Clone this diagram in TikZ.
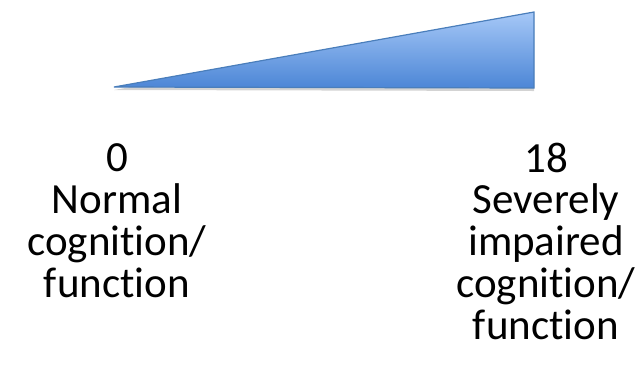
\documentclass[tikz,border=0pt]{standalone}
\usepackage{fontspec}
\setmainfont{Carlito}[Ligatures=NoCommon]
\usepackage{tikz}
\usetikzlibrary{shadows}

\definecolor{wedgetop}{HTML}{A6C8F7}
\definecolor{wedgebot}{HTML}{4C86D6}
\definecolor{wedgeline}{HTML}{4A7EBB}

\begin{document}
\begin{tikzpicture}[x=1pt,y=-1pt,
    scale_label/.style={align=center,anchor=base,inner sep=0pt,font=\fontsize{43}{41.7}\selectfont}]
    \useasboundingbox (0,0) rectangle (638,376);

    \coordinate (tip) at (114,87);
    \coordinate (top) at (534,12);
    \coordinate (bot) at (534,88);
    \draw[wedgeline,line width=1.2pt,top color=wedgetop,bottom color=wedgebot,
          drop shadow={shadow xshift=0pt,shadow yshift=-3pt,opacity=0.35}]
        (tip) -- (top) -- (bot) -- cycle;

    % base anchor sits on the last line
    \node[scale_label] (low) at (117,297) {0\\Normal\\cognition/\\function};
    \node[scale_label] (high) at (546,339) {18\\Severely\\impaired\\cognition/\\function};
\end{tikzpicture}
\end{document}
